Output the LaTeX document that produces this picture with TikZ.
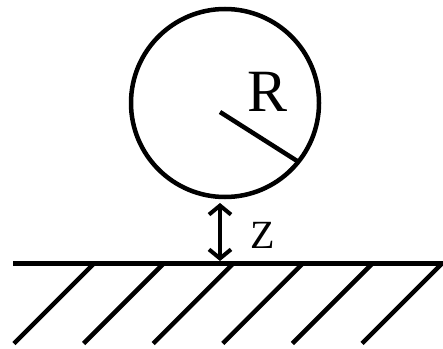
\documentclass[tikz,border=0pt]{standalone}
\usepackage{fontspec}
\setmainfont{Liberation Serif}
\usetikzlibrary{arrows.meta,calc}
\begin{document}
\begin{tikzpicture}[x=1pt,y=-1pt,
  thick line/.style={line width=4.5pt},
  hatchline/.style={line width=4.5pt},
  dimarrow/.style={line width=4pt,{Straight Barb[length=9pt,width=22pt]}-{Straight Barb[length=9pt,width=22pt]}}]
\useasboundingbox (0,0) rectangle (443,348);
% ball
\node[draw,circle,thick line,minimum size=188pt,inner sep=0pt] (ball) at (225,103) {};
\coordinate (rstart) at (220,112);
\draw[thick line] (rstart) -- ($(ball.center)+(38.7:94)$);
\node[font=\fontsize{60}{60}\selectfont,inner sep=0pt] (rlab) at (268,92) {R};
% ground
\coordinate (gl) at (13,263.5);
\coordinate (gr) at (443,263.5);
\draw[thick line] (gl) -- (gr);
\foreach \i in {0,...,5}{
  \draw[hatchline] (94+69.6*\i,263.5) -- ++(-80,80);
}
% distance arrow
\coordinate (atop) at (220,203);
\coordinate (abot) at (220,261);
\draw[dimarrow] (atop) -- (abot);
\node[font=\fontsize{40}{40}\selectfont,inner sep=0pt] (zlab) at (263,235) {Z};
\end{tikzpicture}
\end{document}
